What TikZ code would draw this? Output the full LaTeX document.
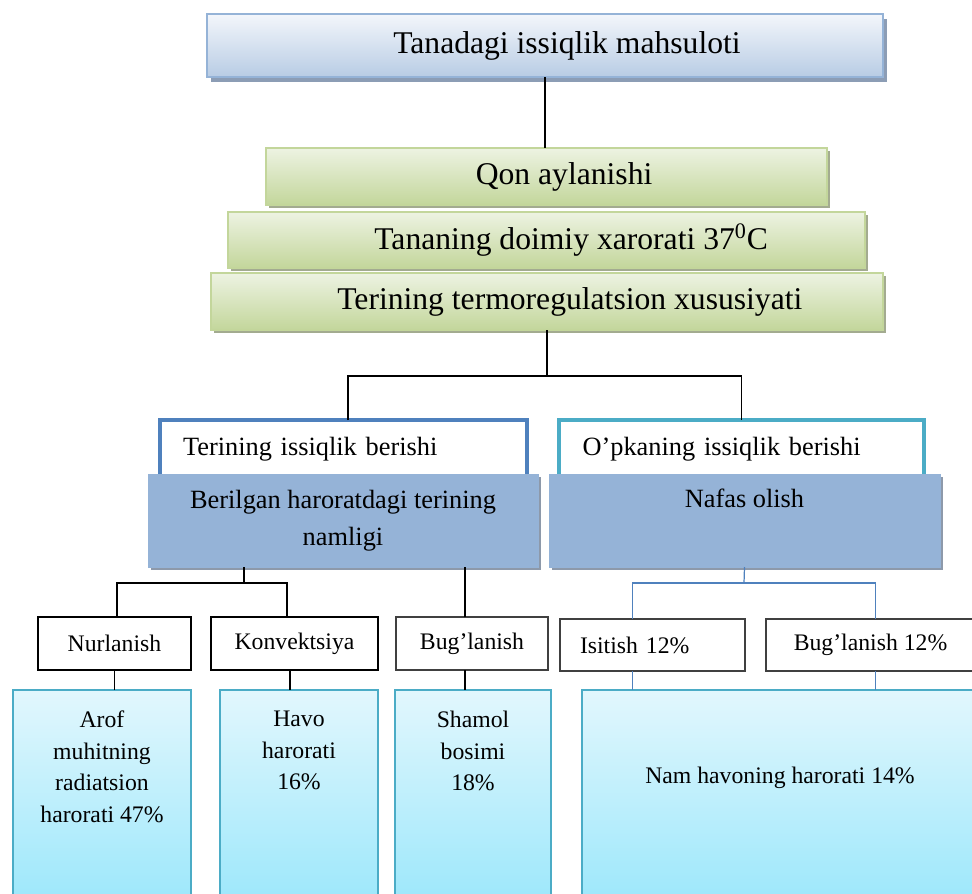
\documentclass[tikz,border=0pt]{standalone}
\usepackage{fontspec}
\setmainfont{Liberation Serif}
\usetikzlibrary{positioning, shadows}

\definecolor{headtop}{HTML}{F3F6FB}
\definecolor{headbot}{HTML}{B8CCE4}
\definecolor{headedge}{HTML}{95B3D7}
\definecolor{headshade}{HTML}{8C9DB5}
\definecolor{greentop}{HTML}{EDF3E2}
\definecolor{greenbot}{HTML}{C3D69B}
\definecolor{greenshade}{HTML}{A3AB90}
\definecolor{bluefill}{HTML}{95B3D7}
\definecolor{blueshade}{HTML}{8D99AA}
\definecolor{darkframe}{HTML}{4F81BD}
\definecolor{tealframe}{HTML}{4BACC6}
\definecolor{cyantop}{HTML}{E2F7FD}
\definecolor{cyanbot}{HTML}{9FE8FB}

\begin{document}
\begin{tikzpicture}[
            x = 0.02cm, y = -0.02cm, % one unit = one pixel, y runs down
            sz/.style 2 args = {minimum width=#1*0.02cm, minimum height=#2*0.02cm},
            conn/.style = {draw=black, line width=0.8pt},
            blueconn/.style = {draw=darkframe, line width=0.7pt}
        ]

        \tikzstyle{every node}=[inner sep=0pt, outer sep=0pt]
        \tikzstyle{headbox}=[
            draw = headedge,
            line width = 1.2pt,
            top color = headtop,
            bottom color = headbot,
            drop shadow = {shadow xshift=2.3pt, shadow yshift=-2.6pt, fill=headshade, opacity=1},
            font = \fontsize{18}{21}\selectfont
        ]
        \tikzstyle{greenbox}=[
            draw = greenbot,
            line width = 0.8pt,
            top color = greentop,
            bottom color = greenbot,
            drop shadow = {shadow xshift=1.8pt, shadow yshift=-1.8pt, fill=greenshade, opacity=1},
            font = \fontsize{18}{21}\selectfont
        ]
        \tikzstyle{framebox}=[
            fill = white,
            line width = 2.3pt,
            align = left,
            inner xsep = 0.47cm,
            font = \fontsize{15}{18}\selectfont
        ]
        \tikzstyle{bluebox}=[
            draw = bluefill,
            fill = bluefill,
            drop shadow = {shadow xshift=1.8pt, shadow yshift=-1.8pt, fill=blueshade, opacity=1},
            align = center,
            font = \fontsize{15}{21}\selectfont
        ]
        \tikzstyle{bluetext}=[
            font = \fontsize{15}{21}\selectfont
        ]
        \tikzstyle{smallbox}=[
            draw = black,
            fill = white,
            line width = 1pt,
            font = \fontsize{13.5}{16}\selectfont
        ]
        \tikzstyle{cyanbox}=[
            draw = tealframe,
            line width = 0.8pt,
            top color = cyantop,
            bottom color = cyanbot
        ]
        \tikzstyle{cyantext}=[
            align = center,
            font = \fontsize{13.5}{18}\selectfont
        ]

        \useasboundingbox (0,0) rectangle (972,893);

        % top of the scheme
        \node[headbox, sz={676}{63}] (title) at (545,45.5) {\hspace*{25pt}Tanadagi issiqlik mahsuloti};

        \node[greenbox, sz={561}{57}] (qon) at (546.5,176.5) {\hspace*{20pt}Qon aylanishi};
        \node[greenbox, sz={637}{56}] (doimiy) at (546.5,240) {\hspace*{28pt}Tananing doimiy xarorati 37\textsuperscript{0}C};
        \node[greenbox, sz={672}{57}] (termo) at (547,301.5) {\hspace*{26pt}Terining termoregulatsion xususiyati};

        \draw[conn] (title.south) -- (title.south |- qon.north);

        % two ways of giving heat away
        \node[framebox, draw=darkframe, sz={367}{58}, text width=6.42cm] (teri) at (343.5,449) {Terining issiqlik berishi};
        \node[framebox, draw=tealframe, sz={365}{58}, text width=6.36cm] (opka) at (741.5,449) {O’pkaning issiqlik berishi};

        \draw[conn] (termo.south) -- ++(0,46) coordinate (fork);
        \draw[conn] ([xshift=0.09cm]teri.north) |- (fork) -| (opka.north);

        \node[bluebox, sz={390}{93}] (namlik) at (343,520.5) {Berilgan haroratdagi terining\\namligi};
        \node[bluebox, sz={391}{93}] (nafas) at (744.5,520.5) {};
        \node[bluetext, below=0.3cm of nafas.north] (nafastxt) {Nafas olish};

        % skin side
        \node[smallbox, sz={153}{53}] (nurl) at (114.5,643.5) {Nurlanish};
        \node[smallbox, sz={167}{53}] (konv) at (294.5,643.5) {Konvektsiya};
        \node[smallbox, draw=black!75, line width=0.8pt, sz={152}{53}] (bugl) at (472,643.5) {Bug’lanish};

        \coordinate (lfork) at (244,583);
        \draw[conn] (namlik.south -| lfork) -- (lfork);
        \draw[conn] ([xshift=0.05cm]nurl.north) |- (lfork) -| ([xshift=-0.15cm]konv.north);
        \draw[conn] ([xshift=-0.14cm]bugl.north) -- ([xshift=-0.14cm]bugl.north |- namlik.south);

        % lung side
        \node[smallbox, draw=black!75, line width=0.8pt, sz={185}{52}, align=left, text width=2.9cm, inner xsep=0.4cm] (isit) at (652.5,645) {Isitish 12\%};
        \node[smallbox, draw=black!75, line width=0.8pt, sz={209}{52}] (bugl2) at (870.5,645) {Bug’lanish 12\%};

        \coordinate (rfork) at (744,583);
        \draw[blueconn] (nafas.south) -- (rfork);
        \draw[blueconn] ([xshift=-0.4cm]isit.north) |- (rfork) -| ([xshift=0.1cm]bugl2.north);

        % bottom row
        \node[cyanbox, sz={178}{205}] (arof) at (102,792.5) {};
        \node[cyanbox, sz={158}{205}] (havo) at (299,792.5) {};
        \node[cyanbox, sz={156}{205}] (shamol) at (473,792.5) {};
        \node[cyanbox, sz={408}{205}] (nam) at (786,792.5) {};

        \node[cyantext, below=0.42cm of arof.north] (aroftxt) {Arof\\muhitning\\radiatsion\\harorati 47\%};
        \node[cyantext, below=0.42cm of havo.north] (havotxt) {Havo\\harorati\\16\%};
        \node[cyantext, below=0.42cm of shamol.north] (shamoltxt) {Shamol\\bosimi\\18\%};
        \node[cyantext] (namtxt) at (780,778) {Nam havoning harorati 14\%};

        \draw[conn] (nurl.south) -- (nurl.south |- arof.north);
        \draw[conn] ([xshift=-0.09cm]konv.south) -- ([xshift=-0.09cm]konv.south |- havo.north);
        \draw[conn] ([xshift=-0.14cm]bugl.south) -- ([xshift=-0.14cm]bugl.south |- shamol.north);
        \draw[blueconn] ([xshift=-0.4cm]isit.south) -- ([xshift=-0.4cm]isit.south |- nam.north);
        \draw[blueconn] ([xshift=0.1cm]bugl2.south) -- ([xshift=0.1cm]bugl2.south |- nam.north);

    \end{tikzpicture}
\end{document}
